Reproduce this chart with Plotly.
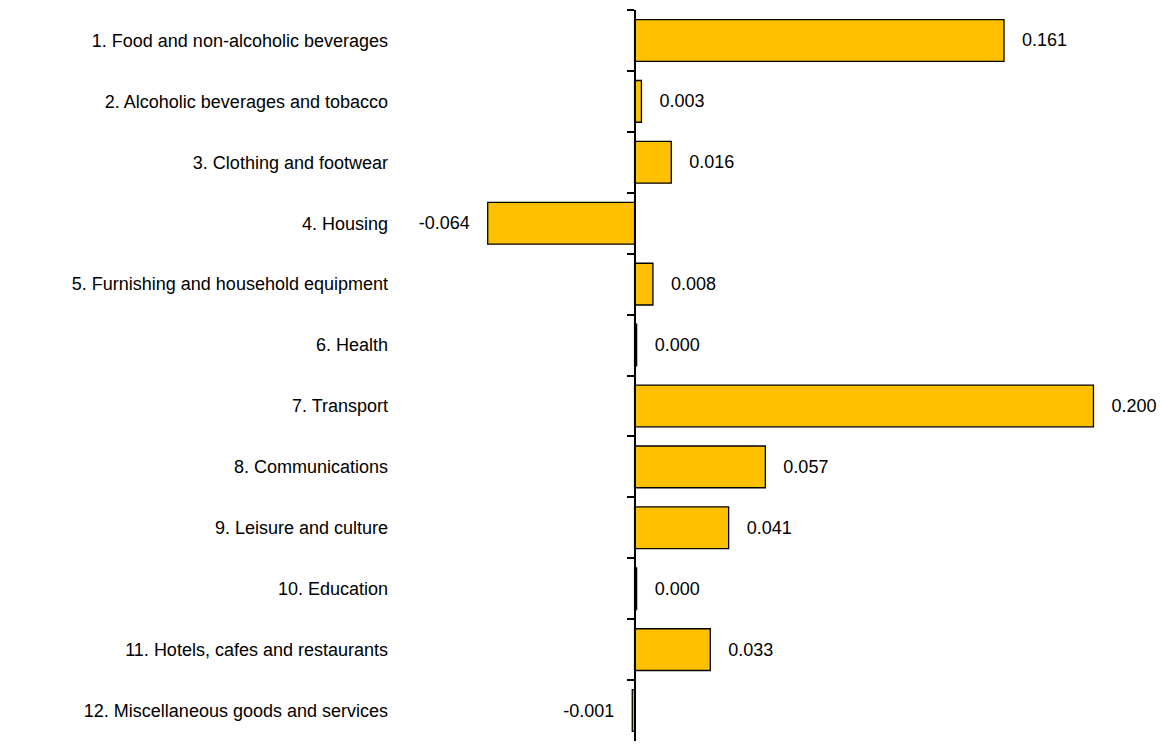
import plotly.graph_objects as go

categories = [
    "1. Food and non-alcoholic beverages",
    "2. Alcoholic beverages and tobacco",
    "3. Clothing and footwear",
    "4. Housing",
    "5. Furnishing and household equipment",
    "6. Health",
    "7. Transport",
    "8. Communications",
    "9. Leisure and culture",
    "10. Education",
    "11. Hotels, cafes and restaurants",
    "12. Miscellaneous goods and services",
]
values = [0.161, 0.003, 0.016, -0.064, 0.008, 0.0009, 0.200, 0.057, 0.041, 0.0009, 0.033, -0.001]
value_labels = ["0.161", "0.003", "0.016", "-0.064", "0.008", "0.000",
                "0.200", "0.057", "0.041", "0.000", "0.033", "-0.001"]

x_range = [-0.1044, 0.2303]
zero_pos = (0 - x_range[0]) / (x_range[1] - x_range[0])
y_range = [len(categories) - 0.5, -0.5]

pad = "\u00a0\u00a0\u00a0"
texts = [(pad + t) if v >= 0 else (t + pad) for v, t in zip(values, value_labels)]

FONT = "Arial, 'Liberation Sans', sans-serif"

fig = go.Figure()
fig.add_trace(go.Bar(
    x=values, y=categories, orientation="h",
    marker=dict(color="#FFC000", line=dict(color="black", width=1.3)),
    text=texts, textposition="outside", cliponaxis=False, constraintext="none",
    textfont=dict(family=FONT, size=18, color="black"),
    hoverinfo="skip", showlegend=False,
))
fig.add_trace(go.Scatter(
    x=[0] * len(categories), y=categories, yaxis="y2", mode="markers",
    marker=dict(opacity=0, size=1), hoverinfo="skip", showlegend=False,
))

fig.update_layout(
    width=1163, height=744,
    margin=dict(l=395, r=0, t=10, b=3),
    paper_bgcolor="white", plot_bgcolor="white",
    bargap=0.315,
    font=dict(family=FONT, size=18, color="black"),
    xaxis=dict(range=x_range, visible=False, showgrid=False, zeroline=False),
    yaxis=dict(type="category", categoryorder="array", categoryarray=categories,
               range=y_range, autorange=False, showgrid=False, zeroline=False, showline=False,
               ticks="", ticklabelstandoff=6,
               tickfont=dict(family=FONT, size=18, color="black")),
    yaxis2=dict(type="category", categoryorder="array", categoryarray=categories,
                overlaying="y", range=y_range, autorange=False,
                anchor="free", position=zero_pos,
                side="left", showline=True, linecolor="black", linewidth=1.5,
                ticks="outside", ticklen=7, tickwidth=1.5, tickcolor="black",
                tickson="boundaries", showticklabels=False, showgrid=False, zeroline=False),
)

fig.write_html("out.html")
